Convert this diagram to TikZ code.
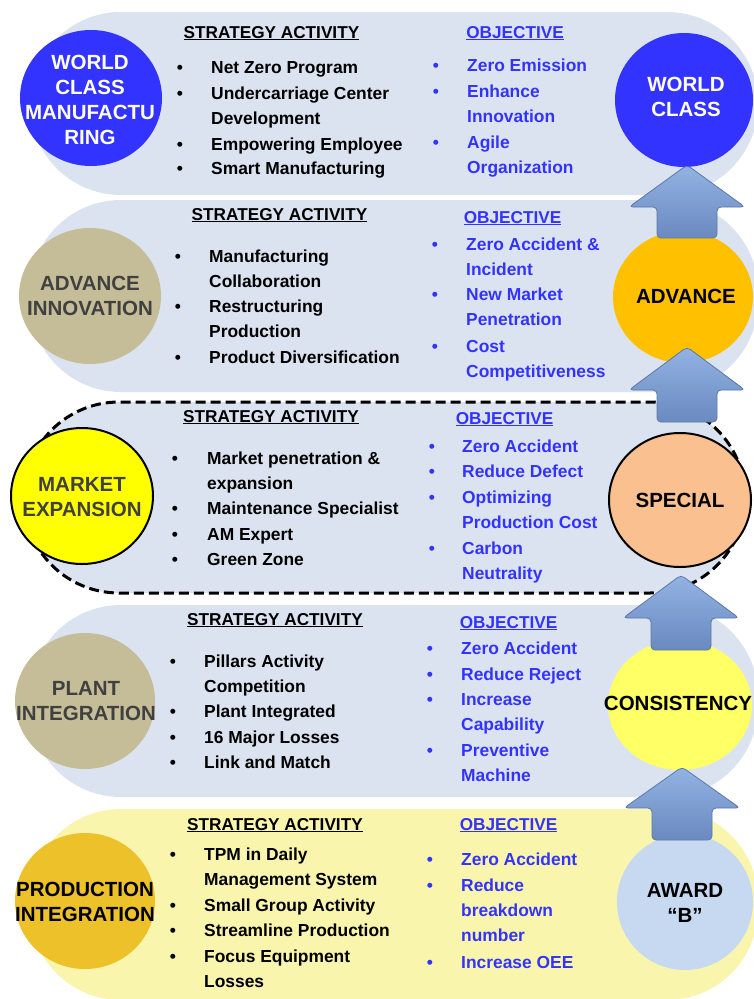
\documentclass[tikz,border=0pt]{standalone}
\usepackage{fontspec}
\setmainfont{Liberation Sans}
\begin{document}
\definecolor{bandblue}{HTML}{DCE3F0}
\definecolor{bandyellow}{HTML}{F9F5AD}
\definecolor{royal}{HTML}{3333FF}
\definecolor{khaki}{HTML}{C4BD97}
\definecolor{amber}{HTML}{FFC000}
\definecolor{lemon}{HTML}{FFFF00}
\definecolor{peach}{HTML}{FAC090}
\definecolor{paleyellow}{HTML}{FFFF66}
\definecolor{gold}{HTML}{EDC12A}
\definecolor{skyish}{HTML}{C6D9F1}
\definecolor{objblue}{HTML}{3333FF}
\definecolor{labelgray}{HTML}{404040}
\definecolor{arrowtop}{HTML}{92B3E3}
\definecolor{arrowbot}{HTML}{6A8AC0}
\definecolor{arrowedge}{HTML}{5B78A8}
\begin{tikzpicture}[x=1pt,y=-1pt,
  band/.style={fill=bandblue},
  stagetext/.style={align=center,inner sep=0pt,font=\fontsize{20.5}{25}\selectfont\bfseries},
  head/.style={anchor=base,inner sep=0pt,font=\fontsize{17.2}{25.4}\selectfont\bfseries},
  item/.style={anchor=base west,inner sep=0pt,align=left,font=\fontsize{17.4}{25.4}\selectfont\bfseries},
  twolines/.style={yshift=-25.4pt},
  threelines/.style={yshift=-50.8pt},
  bul/.style={anchor=base,inner sep=0pt,font=\fontsize{17.4}{25.4}\selectfont\bfseries},
  act/.style={text=black},
  obj/.style={text=objblue},
  uparrow/.style={draw=arrowedge,line width=0.8pt,rounded corners=4pt,
    top color=arrowtop,bottom color=arrowbot}]
\useasboundingbox (0,0) rectangle (753,999);
\fill[white] (0,0) rectangle (753,999);

% ---------- horizontal bands ----------
\fill[band] (30,12) [rounded corners=91pt] rectangle (758,195);
\fill[band] (30,200) [rounded corners=91pt] rectangle (758,392);
\fill[band] (24,402) [rounded corners=95pt] rectangle (745,593);
\fill[band] (30,605) [rounded corners=91pt] rectangle (758,797);
\fill[bandyellow] (30,809) [rounded corners=91pt] rectangle (758,1000);
\draw[line width=3pt,dash pattern=on 10pt off 5pt] (24,402) [rounded corners=95pt] rectangle (745,593);

% ---------- stage circles ----------
\fill[royal] (91,98) ellipse [x radius=71,y radius=68];
\fill[royal] (684,100) ellipse [x radius=69,y radius=67];
\fill[khaki] (90,296) ellipse [x radius=71,y radius=68];
\fill[amber] (683,297) ellipse [x radius=70,y radius=66];
\filldraw[fill=lemon,draw=black,line width=2pt] (82,496) ellipse [x radius=71,y radius=68];
\filldraw[fill=peach,draw=black,line width=2pt] (680,500) ellipse [x radius=71,y radius=67];
\fill[khaki] (85,701) ellipse [x radius=70,y radius=68];
\fill[paleyellow] (680,705) ellipse [x radius=72,y radius=65];
\fill[gold] (85,901) ellipse [x radius=70,y radius=68];
\fill[skyish] (685,902) ellipse [x radius=68,y radius=68];

% ---------- block arrows between stages ----------
\draw[uparrow] (687,165) -- (745,207) -- (717,207) -- (717,238) -- (657,238) -- (657,207) -- (629,207) -- cycle;
\draw[uparrow] (687,347) -- (745,390) -- (717,390) -- (717,422) -- (657,422) -- (657,390) -- (629,390) -- cycle;
\draw[uparrow] (681,575) -- (739,618) -- (711,618) -- (711,650) -- (651,650) -- (651,618) -- (623,618) -- cycle;
\draw[uparrow] (682,767) -- (740,808) -- (712,808) -- (712,840) -- (652,840) -- (652,808) -- (624,808) -- cycle;

% ---------- stage labels ----------
\node[stagetext,text=white] (wcm) at (90,99.5) {WORLD\\CLASS\\MANUFACTU\\RING};
\node[stagetext,text=white] (wc) at (686,96.5) {WORLD\\CLASS};
\node[stagetext,text=labelgray] (ai) at (90,295.5) {ADVANCE\\INNOVATION};
\node[stagetext,text=black] (adv) at (686,296) {ADVANCE};
\node[stagetext,text=labelgray] (me) at (82,497.5) {MARKET\\EXPANSION};
\node[stagetext,text=black] (spc) at (680,500) {SPECIAL};
\node[stagetext,text=labelgray] (pi) at (86,701.5) {PLANT\\INTEGRATION};
\node[stagetext,text=black] (cons) at (678,703) {CONSISTENCY};
\node[stagetext,text=black] (prod) at (85,901.5) {PRODUCTION\\INTEGRATION};
\node[stagetext,text=black] (awd) at (685,903) {AWARD\\“B”};

% ---------- band 1 ----------
\node[head,text=black] (sa1) at (271.5,38) {\underline{STRATEGY ACTIVITY}};
\node[head,text=objblue] (ob1) at (515,38) {\underline{OBJECTIVE}};
\node[bul] (sa1b1) at (180,73) {•};  \node[item,act] (sa1t1) at (211,73) {Net Zero Program};
\node[bul] (sa1b2) at (180,99) {•};  \node[item,act,twolines] (sa1t2) at (211,99) {Undercarriage Center\\Development};
\node[bul] (sa1b3) at (180,150) {•}; \node[item,act] (sa1t3) at (211,150) {Empowering Employee};
\node[bul] (sa1b4) at (180,174) {•}; \node[item,act] (sa1t4) at (211,174) {Smart Manufacturing};
\node[bul,obj] (ob1b1) at (436,71) {•};  \node[item,obj] (ob1t1) at (467,71) {Zero Emission};
\node[bul,obj] (ob1b2) at (436,97) {•};  \node[item,obj,twolines] (ob1t2) at (467,97) {Enhance\\Innovation};
\node[bul,obj] (ob1b3) at (436,148) {•}; \node[item,obj,twolines] (ob1t3) at (467,148) {Agile\\Organization};

% ---------- band 2 ----------
\node[head,text=black] (sa2) at (279.5,220) {\underline{STRATEGY ACTIVITY}};
\node[head,text=objblue] (ob2) at (512.5,223) {\underline{OBJECTIVE}};
\node[bul] (sa2b1) at (178,262) {•}; \node[item,act,twolines] (sa2t1) at (209,262) {Manufacturing\\Collaboration};
\node[bul] (sa2b2) at (178,312) {•}; \node[item,act,twolines] (sa2t2) at (209,312) {Restructuring\\Production};
\node[bul] (sa2b3) at (178,363) {•}; \node[item,act] (sa2t3) at (209,363) {Product Diversification};
\node[bul,obj] (ob2b1) at (435,250) {•}; \node[item,obj,twolines] (ob2t1) at (466,250) {Zero Accident \&\\Incident};
\node[bul,obj] (ob2b2) at (435,300) {•}; \node[item,obj,twolines] (ob2t2) at (466,300) {New Market\\Penetration};
\node[bul,obj] (ob2b3) at (435,352) {•}; \node[item,obj,twolines] (ob2t3) at (466,352) {Cost\\Competitiveness};

% ---------- band 3 ----------
\node[head,text=black] (sa3) at (271,422) {\underline{STRATEGY ACTIVITY}};
\node[head,text=objblue] (ob3) at (504.5,424) {\underline{OBJECTIVE}};
\node[bul] (sa3b1) at (175,464) {•}; \node[item,act,twolines] (sa3t1) at (207,464) {Market penetration \&\\expansion};
\node[bul] (sa3b2) at (175,514) {•}; \node[item,act] (sa3t2) at (207,514) {Maintenance Specialist};
\node[bul] (sa3b3) at (175,540) {•}; \node[item,act] (sa3t3) at (207,540) {AM Expert};
\node[bul] (sa3b4) at (175,565) {•}; \node[item,act] (sa3t4) at (207,565) {Green Zone};
\node[bul,obj] (ob3b1) at (432,452) {•}; \node[item,obj] (ob3t1) at (462,452) {Zero Accident};
\node[bul,obj] (ob3b2) at (432,477) {•}; \node[item,obj] (ob3t2) at (462,477) {Reduce Defect};
\node[bul,obj] (ob3b3) at (432,503) {•}; \node[item,obj,twolines] (ob3t3) at (462,503) {Optimizing\\Production Cost};
\node[bul,obj] (ob3b4) at (432,554) {•}; \node[item,obj,twolines] (ob3t4) at (462,554) {Carbon\\Neutrality};

% ---------- band 4 ----------
\node[head,text=black] (sa4) at (275,625) {\underline{STRATEGY ACTIVITY}};
\node[head,text=objblue] (ob4) at (508.5,628) {\underline{OBJECTIVE}};
\node[bul] (sa4b1) at (173,667) {•}; \node[item,act,twolines] (sa4t1) at (204,667) {Pillars Activity\\Competition};
\node[bul] (sa4b2) at (173,717) {•}; \node[item,act] (sa4t2) at (204,717) {Plant Integrated};
\node[bul] (sa4b3) at (173,743) {•}; \node[item,act] (sa4t3) at (204,743) {16 Major Losses};
\node[bul] (sa4b4) at (173,768) {•}; \node[item,act] (sa4t4) at (204,768) {Link and Match};
\node[bul,obj] (ob4b1) at (430,654) {•}; \node[item,obj] (ob4t1) at (461,654) {Zero Accident};
\node[bul,obj] (ob4b2) at (430,680) {•}; \node[item,obj] (ob4t2) at (461,680) {Reduce Reject};
\node[bul,obj] (ob4b3) at (430,705) {•}; \node[item,obj,twolines] (ob4t3) at (461,705) {Increase\\Capability};
\node[bul,obj] (ob4b4) at (430,756) {•}; \node[item,obj,twolines] (ob4t4) at (461,756) {Preventive\\Machine};

% ---------- band 5 ----------
\node[head,text=black] (sa5) at (275,830) {\underline{STRATEGY ACTIVITY}};
\node[head,text=objblue] (ob5) at (508.5,830) {\underline{OBJECTIVE}};
\node[bul] (sa5b1) at (173,860) {•}; \node[item,act,twolines] (sa5t1) at (204,860) {TPM in Daily\\Management System};
\node[bul] (sa5b2) at (173,911) {•}; \node[item,act] (sa5t2) at (204,911) {Small Group Activity};
\node[bul] (sa5b3) at (173,936) {•}; \node[item,act] (sa5t3) at (204,936) {Streamline Production};
\node[bul] (sa5b4) at (173,962) {•}; \node[item,act,twolines] (sa5t4) at (204,962) {Focus Equipment\\Losses};
\node[bul,obj] (ob5b1) at (430,865) {•}; \node[item,obj] (ob5t1) at (461,865) {Zero Accident};
\node[bul,obj] (ob5b2) at (430,891) {•}; \node[item,obj,threelines] (ob5t2) at (461,891) {Reduce\\breakdown\\number};
\node[bul,obj] (ob5b3) at (430,968) {•}; \node[item,obj] (ob5t3) at (461,968) {Increase OEE};
\end{tikzpicture}
\end{document}
